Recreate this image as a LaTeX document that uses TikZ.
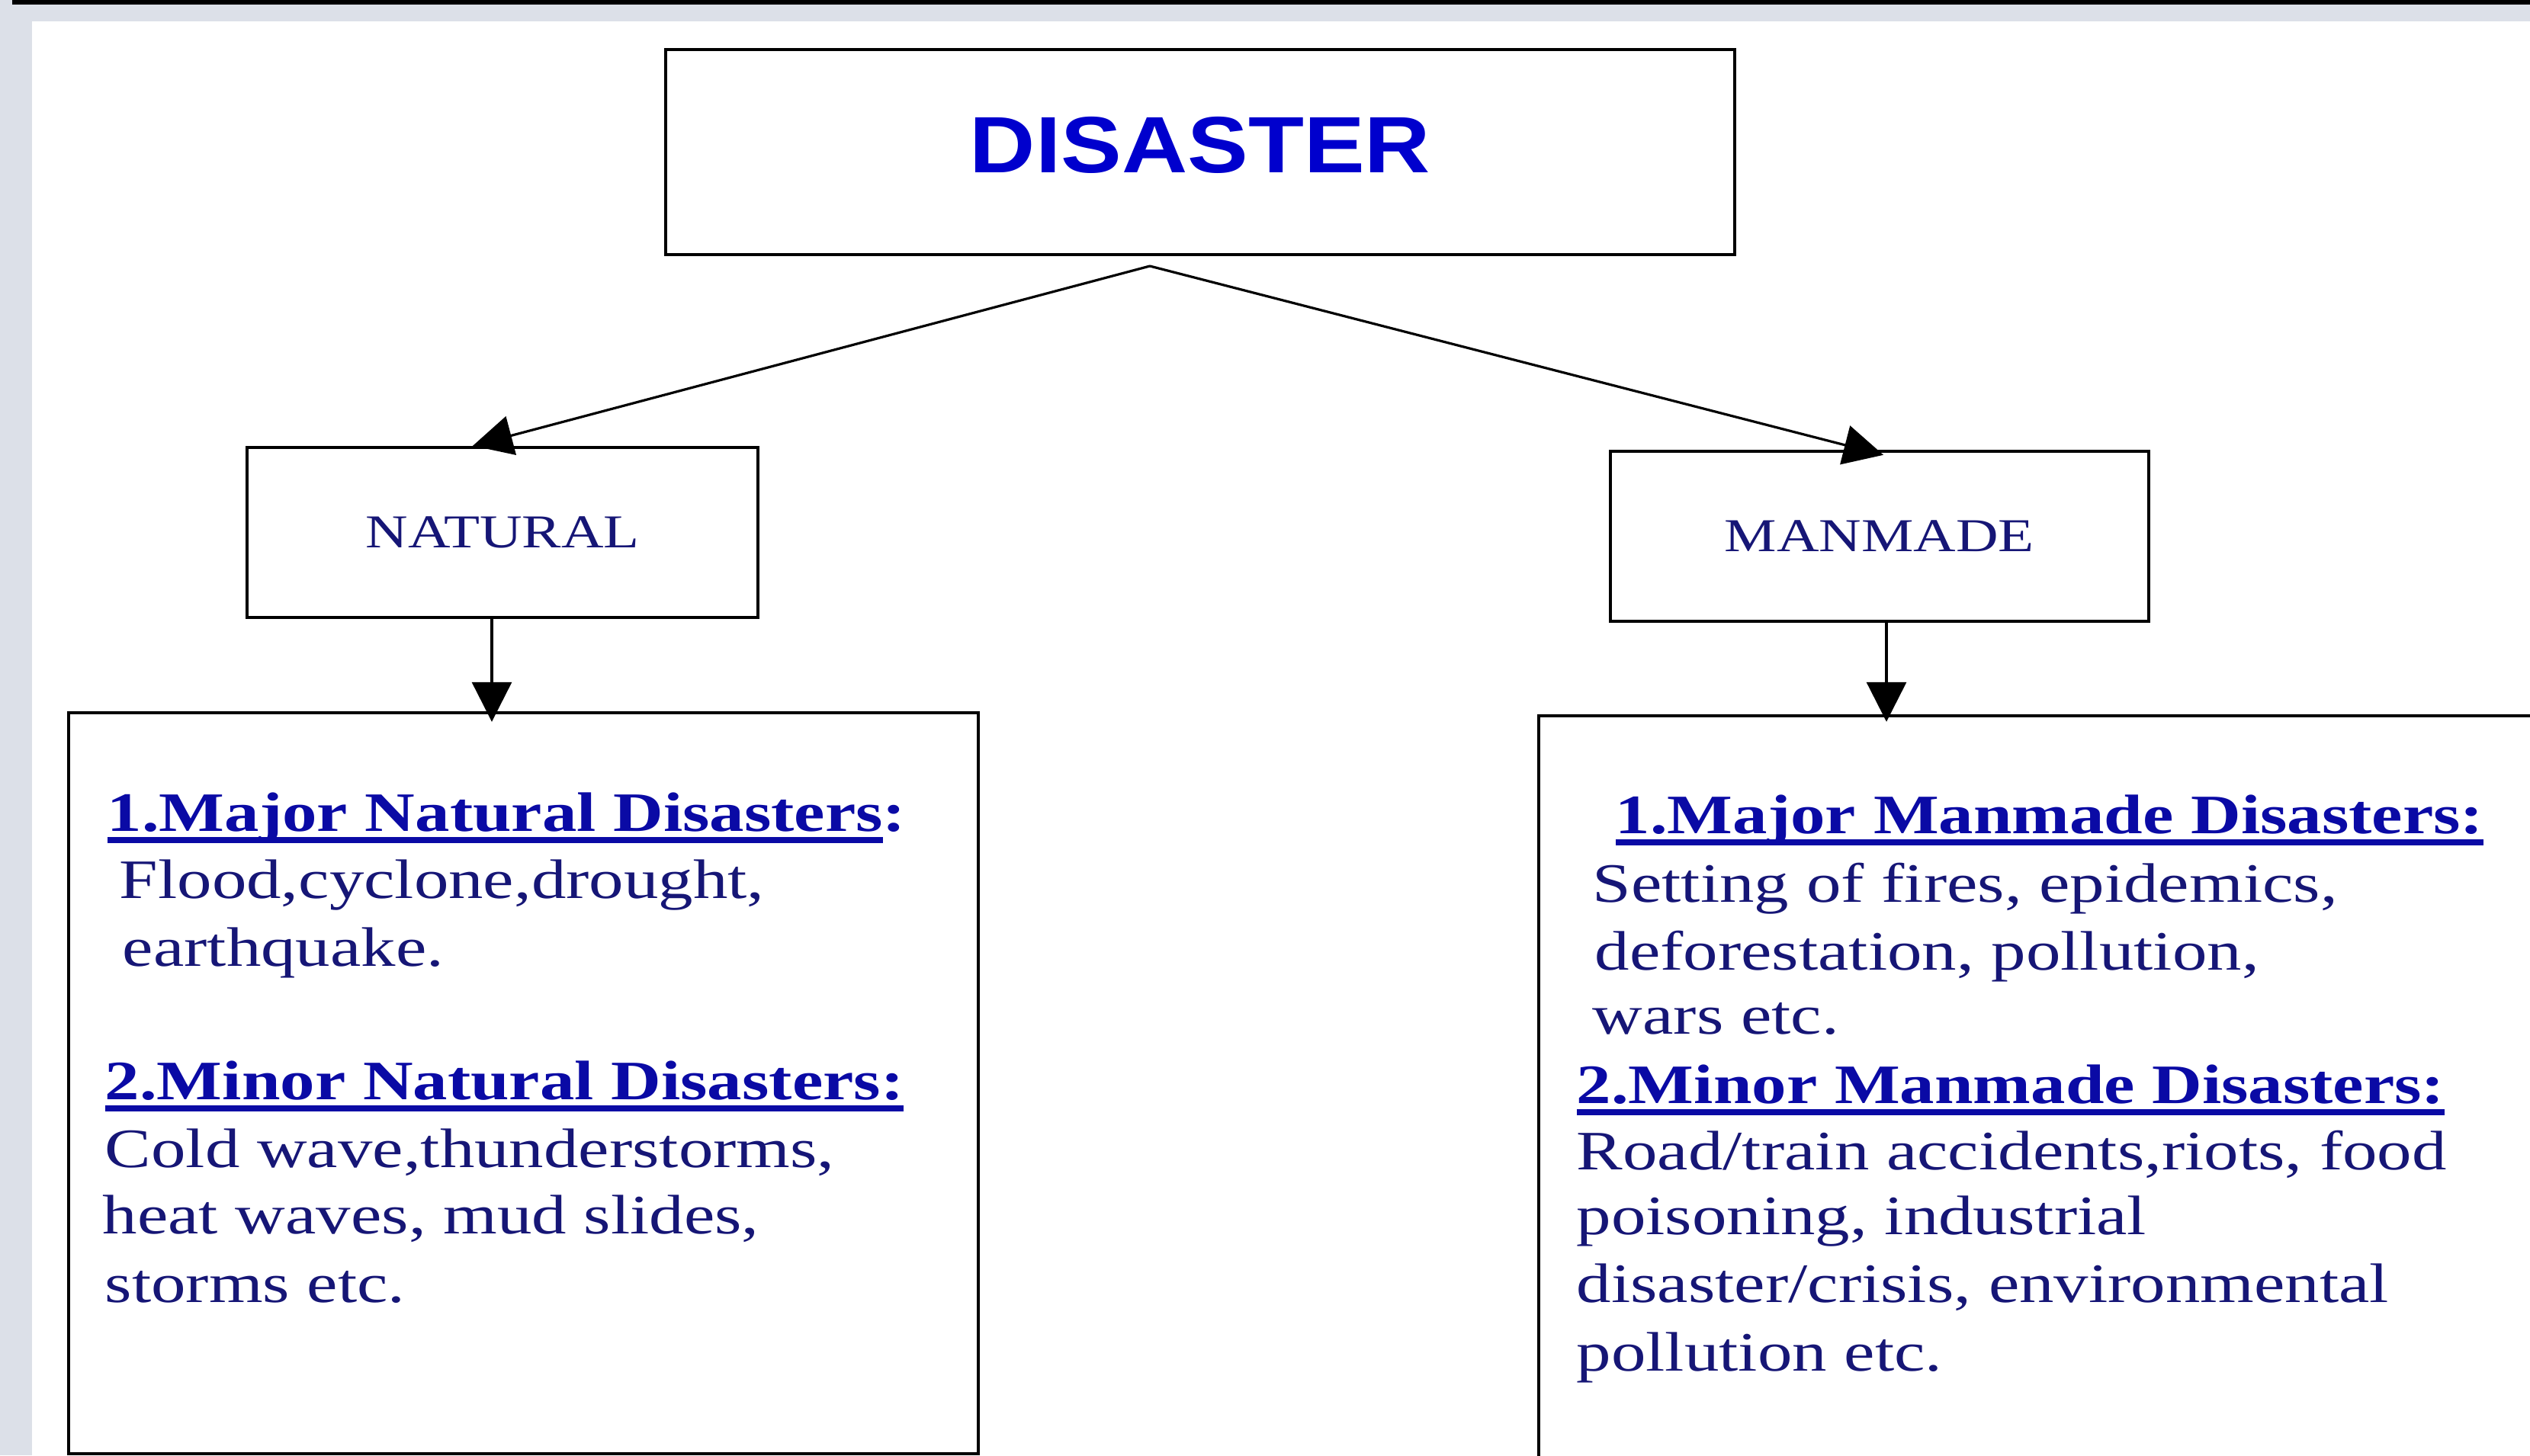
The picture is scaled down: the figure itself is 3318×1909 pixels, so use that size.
\documentclass[tikz,border=0pt]{standalone}
\usepackage{fontspec}
\usepackage{tikz}
\usetikzlibrary{arrows.meta}

\newfontfamily\bodyfont[FakeStretch=1.245]{Liberation Serif}
\newfontfamily\titlefont[FakeStretch=1.14]{Liberation Sans}

\definecolor{pagegrey}{RGB}{220,224,232}
\definecolor{navy}{RGB}{22,22,118}
\definecolor{headblue}{RGB}{10,10,165}
\definecolor{titleblue}{RGB}{0,0,205}

% underline at a fixed depth below the baseline
\newcommand{\hdline}[1]{\setbox0\hbox{#1}\rlap{\rule[-3.9pt]{\wd0}{1.8pt}}\box0}

\begin{document}
\begin{tikzpicture}[x=0.25pt,y=0.25pt,yscale=-1,xscale=1,
  framebox/.style={draw,line width=1.1pt,inner sep=0pt},
  typebox/.style={framebox,minimum height=55.75pt,text=navy,
    font=\bodyfont\fontsize{15.45pt}{18pt}\selectfont},
  bodyline/.style={anchor=base west,inner sep=0pt,text=navy,
    font=\bodyfont\fontsize{18.25pt}{22pt}\selectfont},
  headline/.style={anchor=base west,inner sep=0pt,text=headblue,
    font=\bodyfont\bfseries\fontsize{18.25pt}{22pt}\selectfont},
  arr/.style={line width=0.8pt,-{Triangle[length=13pt,width=13pt]}}]
\useasboundingbox (0,0) rectangle (3318,1909);
\clip (0,0) rectangle (3318,1909);

%Page background
\fill[pagegrey] (0,0) rectangle (3318,1909);
\fill[white] (42,28) rectangle (3318,1909);
\fill[black] (16,0) rectangle (3318,6);

%Shape: Rectangle [disaster]
\draw (1574,199.5) node (disaster) [framebox,minimum width=350.5pt,minimum height=67.25pt,text depth=4.75pt] {\titlefont\bfseries\fontsize{26.2pt}{30pt}\selectfont\color{titleblue}DISASTER};
%Shape: Rectangle [natural]
\draw (659,698.5) node (natural) [typebox,minimum width=167.5pt] {NATURAL};
%Shape: Rectangle [manmade]
\draw (2465,703.5) node (manmade) [typebox,minimum width=176.5pt] {MANMADE};
%Shape: Rectangle [natural list]
\draw (686.5,1421) node (nbox) [framebox,minimum width=298.25pt,minimum height=243pt] {};
%Shape: Rectangle [manmade list]
\draw (2709,1469.5) node (mbox) [framebox,minimum width=345.5pt,minimum height=265.25pt] {};

%Straight Lines
\coordinate (apex) at (1508,349);
\draw[arr] (apex) -- ([xshift=-9.75pt]natural.north);
\draw[arr] (apex) -- ([xshift=1.25pt,yshift=1.75pt]manmade.north);
%Straight Lines
\draw[arr] ([xshift=-3.5pt]natural.south) -- ([xshift=-3.5pt,yshift=3.5pt]natural.south |- nbox.north);
\draw[arr] ([xshift=2.25pt]manmade.south) -- ([xshift=2.25pt,yshift=2.5pt]manmade.south |- mbox.north);

% Text Node
\draw (140,1090) node (nmajor) [headline] {\hdline{1.Major Natural Disasters}:};
% Text Node
\draw (156,1178) node (nmajora) [bodyline] {Flood,cyclone,drought,};
% Text Node
\draw (160,1267) node (nmajorb) [bodyline] {earthquake.};
% Text Node
\draw (137,1442) node (nminor) [headline] {\hdline{2.Minor Natural Disasters:}};
% Text Node
\draw (137,1531) node (nminora) [bodyline] {Cold wave,thunderstorms,};
% Text Node
\draw (134,1618) node (nminorb) [bodyline] {heat waves, mud slides,};
% Text Node
\draw (137,1708) node (nminorc) [bodyline] {storms etc.};

% Text Node
\draw (2118,1093) node (mmajor) [headline] {\hdline{1.Major Manmade Disasters:}};
% Text Node
\draw (2088,1183) node (mmajora) [bodyline] {Setting of fires, epidemics,};
% Text Node
\draw (2091,1272) node (mmajorb) [bodyline] {deforestation, pollution,};
% Text Node
\draw (2088,1356) node (mmajorc) [bodyline] {wars etc.};
% Text Node
\draw (2067,1447) node (mminor) [headline] {\hdline{2.Minor Manmade Disasters:}};
% Text Node
\draw (2067,1534) node (mminora) [bodyline] {Road/train accidents,riots, food};
% Text Node
\draw (2067,1619) node (mminorb) [bodyline] {poisoning, industrial};
% Text Node
\draw (2067,1708) node (mminorc) [bodyline] {disaster/crisis, environmental};
% Text Node
\draw (2067,1798) node (mminord) [bodyline] {pollution etc.};

\end{tikzpicture}
\end{document}
